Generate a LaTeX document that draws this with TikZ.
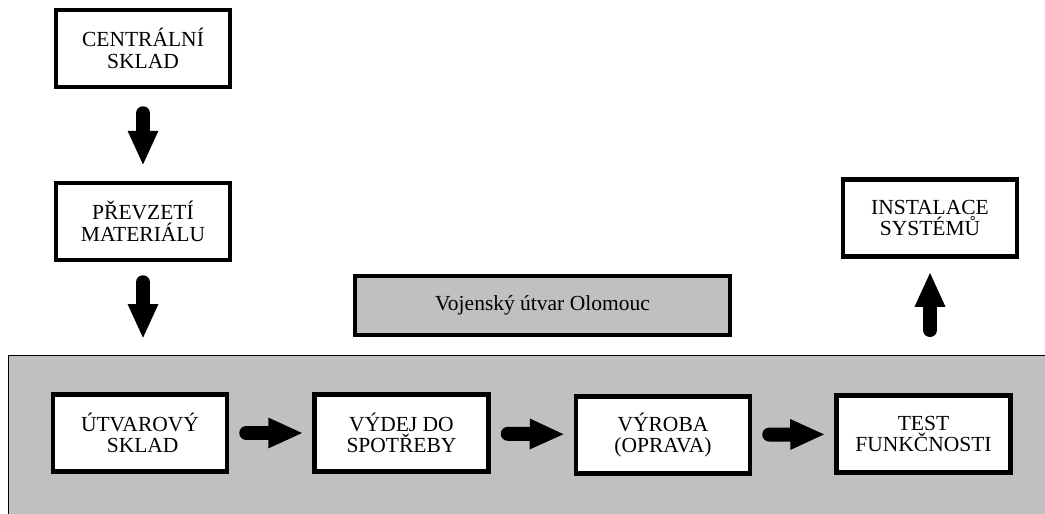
\documentclass[tikz,border=0pt]{standalone}
\usepackage{fontspec}
\setmainfont{Liberation Serif}
\usetikzlibrary{arrows.meta}
\definecolor{bandgray}{HTML}{C0C0C0}
\tikzset{
  krok/.style={draw, line width=4.5pt, fill=white, minimum width=174pt, minimum height=77pt,
    align=center, inner sep=2pt, font=\fontsize{21.5}{21.5}\selectfont},
  utvar/.style={krok, fill=bandgray, minimum width=375pt, minimum height=59pt},
  sipka/.style={line width=14pt, line cap=round, -{Triangle[length=35pt, width=28pt]}}
}
\begin{document}
\begin{tikzpicture}[x=1pt, y=-1pt]
                \clip (0,0) rectangle (1045,514);
                \filldraw[fill=bandgray, draw=black, line width=1pt] (8,355) rectangle (1060,530);
                \coordinate (vstup) at (143,355);
                \coordinate (vystup) at (930,355);
                \node[krok] (centralni) at (143,48.5) {CENTRÁLNÍ\\SKLAD};
                \node[krok] (prevzeti) at (143,221.5) {PŘEVZETÍ\\MATERIÁLU};
                \node[utvar] (olomouc) at (542.5,305.5) {Vojenský útvar Olomouc};
                \node[krok] (instalace) at (930,218) {INSTALACE\\SYSTÉMŮ};
                \node[krok] (utvarovy) at (140,433) {ÚTVAROVÝ\\\ SKLAD};
                \node[krok] (vydej) at (401.5,433) {VÝDEJ DO\\SPOTŘEBY};
                \node[krok] (vyroba) at (663,435) {VÝROBA\\(OPRAVA)};
                \node[krok] (test) at (923.5,434) {TEST\\FUNKČNOSTI};
                \draw[sipka, shorten <=24pt, shorten >=15pt] (centralni) -- (prevzeti);
                \draw[sipka, shorten <=20pt, shorten >=16pt] (prevzeti) -- (vstup);
                \draw[sipka, shorten <=17pt, shorten >=9pt] (utvarovy) -- (vydej);
                \draw[sipka, shorten <=17pt, shorten >=9pt] (vydej) -- (vyroba);
                \draw[sipka, shorten <=17pt, shorten >=9pt] (vyroba) -- (test);
                \draw[sipka, shorten <=25pt, shorten >=13pt] (vystup) -- (instalace);
            \end{tikzpicture}
\end{document}
